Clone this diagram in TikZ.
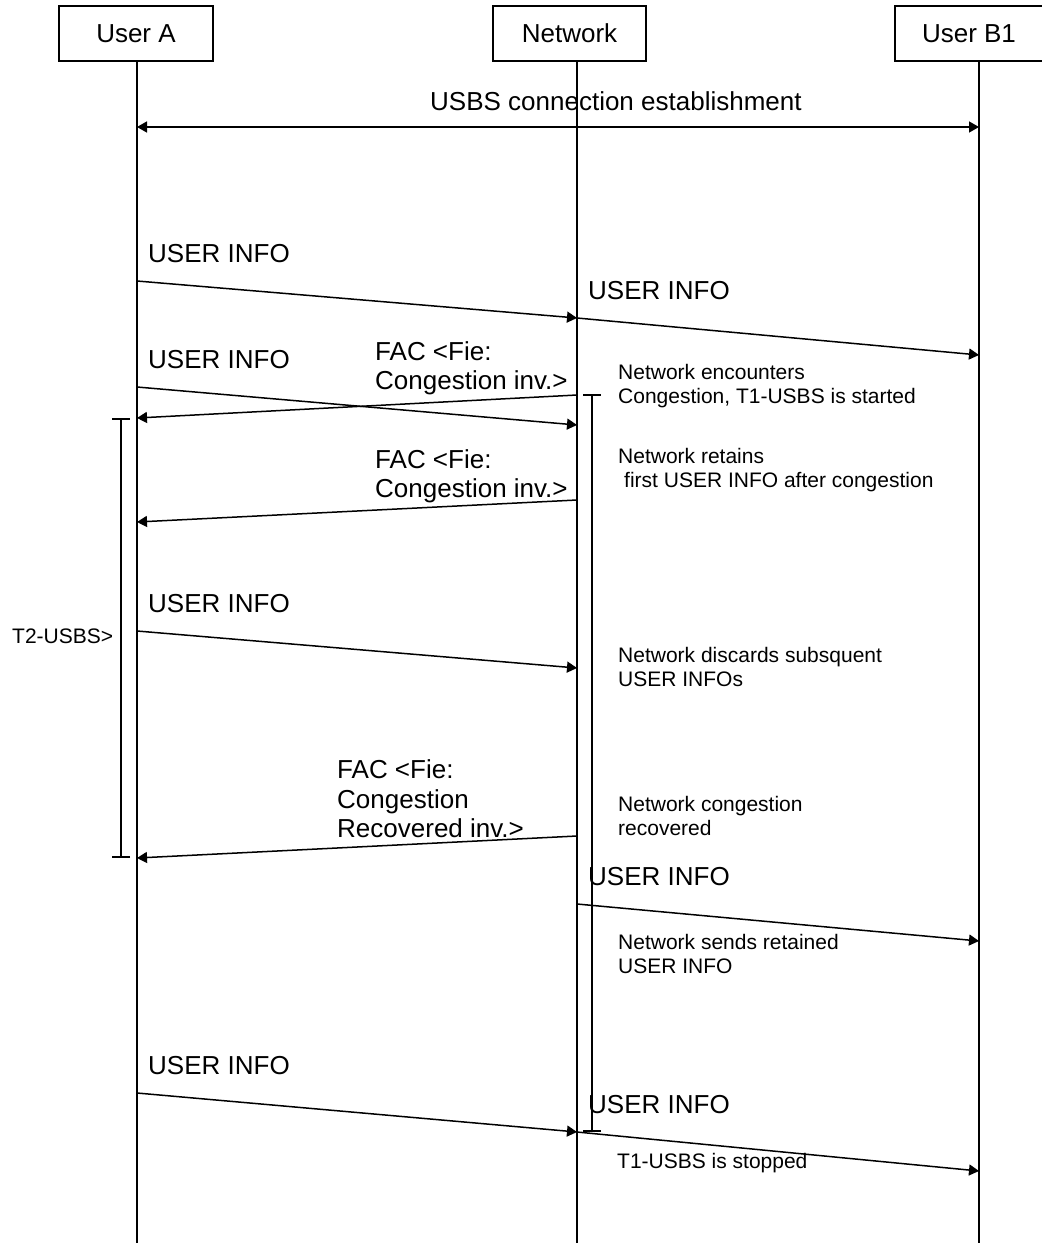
\documentclass[tikz,border=0pt]{standalone}
\usepackage{fontspec}
\setmainfont{Liberation Sans}
\usetikzlibrary{arrows.meta}
\begin{document}
\begin{tikzpicture}[x=1pt,y=-1pt,
  big/.style={font=\fontsize{26}{30}\selectfont, inner sep=0pt, anchor=base west},
  small/.style={font=\fontsize{21}{24}\selectfont, inner sep=0pt, anchor=base west},
  actor/.style={draw, line width=1.6pt, minimum height=55pt, inner sep=0pt, font=\fontsize{26}{30}\selectfont},
  life/.style={line width=2pt},
  msg/.style={line width=1.5pt, -{Triangle[length=10pt,width=11pt]}},
  dmsg/.style={line width=1.5pt, {Triangle[length=10pt,width=11pt]}-{Triangle[length=10pt,width=11pt]}},
  timer/.style={line width=2pt, {Bar[width=18pt]}-{Bar[width=18pt]}}
]
\useasboundingbox (0,0) rectangle (1042,1243);

% actors
\node[actor, minimum width=154pt] (ua) at (136,33.5) {User A};
\node[actor, minimum width=153pt] (nw) at (569.5,33.5) {Network};
\node[actor, minimum width=170pt] (ub) at (980,33.5) {User B1\hspace*{22pt}};

% lifelines
\coordinate (aEnd) at (137,1243);
\coordinate (nEnd) at (577,1243);
\coordinate (bEnd) at (979,1243);
\draw[life] (ua.south -| aEnd) -- (aEnd);
\draw[life] (nw.south -| nEnd) -- (nEnd);
\draw[life] (ub.south -| bEnd) -- (bEnd);

% connection establishment
\coordinate (A0) at (137,127);
\coordinate (B0) at (979,127);
\draw[dmsg] (A0) -- (B0);
\node[big] (t0) at (430,110) {USBS connection establishment};

% message endpoints
\coordinate (A1) at (137,281); \coordinate (N1) at (577,318); \coordinate (B1) at (979,355);
\coordinate (A2) at (137,387); \coordinate (N2) at (577,425);
\coordinate (N3) at (577,395); \coordinate (A3) at (137,418);
\coordinate (N4) at (577,500); \coordinate (A4) at (137,522);
\coordinate (A5) at (137,631); \coordinate (N5) at (577,668);
\coordinate (N6) at (577,836); \coordinate (A6) at (137,858);
\coordinate (N7) at (577,904); \coordinate (B7) at (979,941);
\coordinate (A8) at (137,1093); \coordinate (N8) at (577,1132); \coordinate (B8) at (979,1171);

\draw[msg] (A1) -- (N1);
\draw[msg] (N1) -- (B1);
\draw[msg] (A2) -- (N2);
\draw[msg] (N3) -- (A3);
\draw[msg] (N4) -- (A4);
\draw[msg] (A5) -- (N5);
\draw[msg] (N6) -- (A6);
\draw[msg] (N7) -- (B7);
\draw[msg] (A8) -- (N8);
\draw[msg] (N8) -- (B8);

% timers
\coordinate (T1s) at (592,394); \coordinate (T1e) at (592,1132);
\coordinate (T2s) at (121,418); \coordinate (T2e) at (121,858);
\draw[timer] (T1s) -- (T1e);
\draw[timer] (T2s) -- (T2e);

% message labels
\node[big] (l1) at (148,262) {USER INFO};
\node[big] (l2) at (588,299) {USER INFO};
\node[big] (l3) at (148,368) {USER INFO};
\node[big] (l4a) at (375,360) {FAC <Fie:};
\node[big] (l4b) at (375,389) {Congestion inv.>};
\node[big] (l5a) at (375,468) {FAC <Fie:};
\node[big] (l5b) at (375,497) {Congestion inv.>};
\node[big] (l6) at (148,612) {USER INFO};
\node[big] (l7a) at (337,778) {FAC <Fie:};
\node[big] (l7b) at (337,808) {Congestion};
\node[big] (l7c) at (337,837) {Recovered inv.>};
\node[big] (l8) at (588,885) {USER INFO};
\node[big] (l9) at (148,1074) {USER INFO};
\node[big] (l10) at (588,1113) {USER INFO};

% notes
\node[small] (n1a) at (618,379) {Network encounters};
\node[small] (n1b) at (618,403) {Congestion, T1-USBS is started};
\node[small] (n2a) at (618,463) {Network retains};
\node[small] (n2b) at (624,487) {first USER INFO after congestion};
\node[small] (n3a) at (618,662) {Network discards subsquent};
\node[small] (n3b) at (618,686) {USER INFOs};
\node[small] (n4a) at (618,811) {Network congestion};
\node[small] (n4b) at (618,835) {recovered};
\node[small] (n5a) at (618,949) {Network sends retained};
\node[small] (n5b) at (618,973) {USER INFO};
\node[small] (n6) at (617,1168) {T1-USBS is stopped};
\node[small] (t2) at (12,643) {T2-USBS>};
\end{tikzpicture}
\end{document}
